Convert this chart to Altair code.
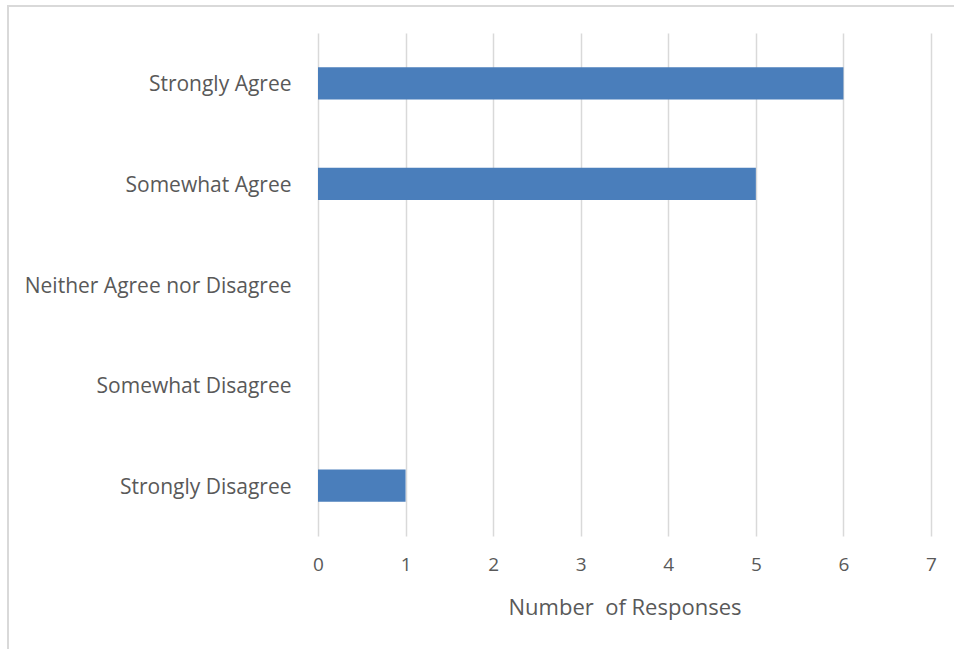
import altair as alt
import pandas as pd

# Survey responses per answer category
categories = [
    "Strongly Agree",
    "Somewhat Agree",
    "Neither Agree nor Disagree",
    "Somewhat Disagree",
    "Strongly Disagree",
]
responses = [6, 5, 0, 0, 1]

df = pd.DataFrame({"category": categories, "count": responses})

FONT = "Open Sans"
TEXT = "#595959"
GRID = "#d9d9d9"
BAR = "#4a7ebb"

bars = alt.Chart(df).mark_bar(color=BAR).encode(
    x=alt.X(
        "count:Q",
        scale=alt.Scale(domain=[0, 7], nice=False, zero=True),
        axis=alt.Axis(
            title="Number\u00a0 of Responses",
            values=list(range(8)),
            format="d",
            grid=True,
            gridColor=GRID,
            gridWidth=1.5,
            domain=False,
            ticks=False,
            labelFlush=False,
            labelPadding=19,
            labelFont=FONT,
            labelFontSize=19,
            labelColor=TEXT,
            titleFont=FONT,
            titleFontSize=22,
            titleFontWeight="normal",
            titleColor=TEXT,
            titlePadding=23,
        ),
    ),
    y=alt.Y(
        "category:N",
        sort=categories,
        scale=alt.Scale(paddingInner=0.68, paddingOuter=0.34),
        axis=alt.Axis(
            title=None,
            domain=False,
            ticks=False,
            grid=False,
            labelPadding=27,
            labelOffset=2,
            labelFont=FONT,
            labelFontSize=21,
            labelColor=TEXT,
            labelLimit=400,
        ),
    ),
)

# Light frame around the whole chart
frame = alt.Chart(df).mark_rect(
    fill=None, stroke="#d9d9d9", strokeWidth=2, clip=False
).encode(
    x=alt.value(-310),
    x2=alt.value(660),
    y=alt.value(-27),
    y2=alt.value(640),
)

chart = (
    alt.layer(frame, bars)
    .properties(
        width=613,
        height=503,
        autosize=alt.AutoSizeParams(type="none"),
        padding={"left": 318, "top": 33, "right": 23, "bottom": 113},
        background="white",
    )
    .configure_view(stroke=None)
)

chart.save("out.html", embed_options={"renderer": "svg", "actions": False})
